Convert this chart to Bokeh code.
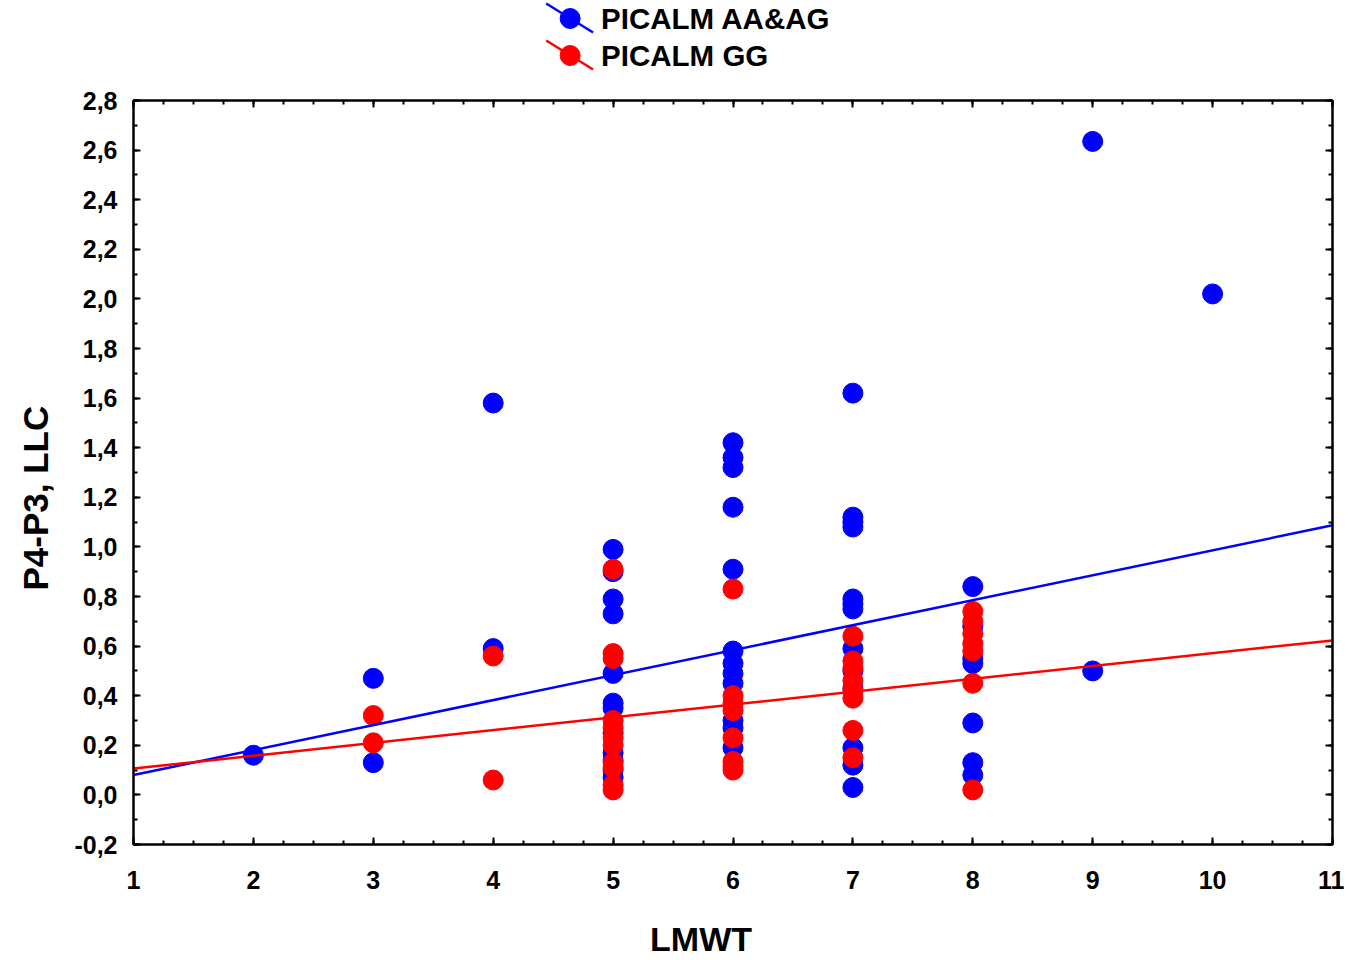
from bokeh.plotting import figure
from bokeh.models import (FixedTicker, CustomJSTickFormatter, LinearAxis, Range1d, Title)
from bokeh.core.properties import value
from bokeh.layouts import column
from bokeh.embed import file_html
from bokeh.resources import INLINE

# ---- data ----
aa_x = [2, 3, 3, 4, 4,
        5, 5, 5, 5, 5, 5, 5, 5, 5, 5, 5, 5,
        6, 6, 6, 6, 6, 6, 6, 6, 6, 6, 6, 6,
        7, 7, 7, 7, 7, 7, 7, 7, 7, 7, 7, 7, 7,
        8, 8, 8, 8, 8, 8, 8,
        9, 9, 10]
aa_y = [0.16, 0.47, 0.13, 1.58, 0.59,
        0.99, 0.90, 0.79, 0.73, 0.49, 0.37, 0.35, 0.25, 0.17, 0.14, 0.10, 0.07,
        1.42, 1.36, 1.32, 1.16, 0.91, 0.58, 0.53, 0.49, 0.45, 0.30, 0.27, 0.19,
        1.62, 1.12, 1.10, 1.08, 0.79, 0.77, 0.75, 0.59, 0.50, 0.43, 0.19, 0.12, 0.03,
        0.84, 0.68, 0.55, 0.53, 0.29, 0.13, 0.08,
        2.635, 0.50, 2.02]

gg_x = [3, 3, 4, 4,
        5, 5, 5, 5, 5, 5, 5, 5, 5, 5, 5,
        6, 6, 6, 6, 6, 6, 6, 6,
        7, 7, 7, 7, 7, 7, 7, 7,
        8, 8, 8, 8, 8, 8, 8]
gg_y = [0.32, 0.21, 0.56, 0.06,
        0.91, 0.57, 0.55, 0.30, 0.27, 0.23, 0.20, 0.13, 0.11, 0.04, 0.02,
        0.83, 0.40, 0.37, 0.34, 0.23, 0.135, 0.115, 0.10,
        0.64, 0.54, 0.51, 0.46, 0.42, 0.39, 0.26, 0.15,
        0.74, 0.70, 0.65, 0.61, 0.58, 0.45, 0.02]

fit_x = [1, 11]
aa_fit = [0.08, 1.087]
gg_fit = [0.106, 0.623]

y_ticks = [round(-0.2 + 0.2 * i, 1) for i in range(16)]
y_minor = [round(-0.2 + 0.1 * i, 2) for i in range(31)]
x_ticks = list(range(1, 12))
x_minor = [1 + 0.25 * i for i in range(41)]

labels = ["PICALM AA&AG", "PICALM GG"]
colors = ["#0000ff", "#ff0000"]
x_title = "LMWT"
y_title = "P4-P3, LLC"
FONT = "Liberation Sans"
W = 1344
FL, FR = 132, 1332          # frame left / right on the page (strips share it)

# ---- legend strip (page-pixel coordinates, y downwards) ----
LEG_H = 88
leg = figure(width=W, height=LEG_H, output_backend="svg", toolbar_location=None,
             x_range=Range1d(FL, FR), y_range=Range1d(LEG_H, 0),
             min_border=0, outline_line_color=None)
leg.axis.visible = False
leg.grid.visible = False
row_y = [18, 55]
for lab, col, ry in zip(labels, colors, row_y):
    leg.line([545, 592], [ry - 15, ry + 14], line_color=col, line_width=2.5)
    leg.scatter([569], [ry], size=20, marker="circle", fill_color=col, line_color=col)
    leg.text([600], [ry], text=[lab], text_font=value(FONT), text_font_style="bold",
             text_font_size="29.5px", text_baseline="middle", text_align="left",
             text_color="black")

# ---- main plot ----
MAIN_H = 816
p = figure(width=W, height=MAIN_H, output_backend="svg", toolbar_location=None,
           x_range=Range1d(1, 11), y_range=Range1d(-0.2, 2.8),
           min_border_left=FL, min_border_right=W - FR, min_border_top=12,
           min_border_bottom=60)
p.grid.visible = False
p.outline_line_color = "black"
p.outline_line_width = 2

p.scatter(aa_x, aa_y, size=20, marker="circle", fill_color=colors[0], line_color=colors[0])
p.scatter(gg_x, gg_y, size=20, marker="circle", fill_color=colors[1], line_color=colors[1])
p.line(fit_x, aa_fit, line_color=colors[0], line_width=2.5)
p.line(fit_x, gg_fit, line_color=colors[1], line_width=2.5)

fmt = CustomJSTickFormatter(code="return tick.toFixed(1).replace('.', ',');")
empty = CustomJSTickFormatter(code="return '';")

xa = p.xaxis[0]
ya = p.yaxis[0]
xa.ticker = FixedTicker(ticks=x_ticks, minor_ticks=x_minor)
ya.ticker = FixedTicker(ticks=y_ticks, minor_ticks=y_minor)
ya.formatter = fmt

TICK = dict(major_tick_in=7, major_tick_out=0, minor_tick_in=4, minor_tick_out=0,
            axis_line_width=2, axis_line_color="black",
            major_tick_line_width=2, minor_tick_line_width=2)

for ax in (xa, ya):
    for k, v in TICK.items():
        setattr(ax, k, v)
    ax.major_label_text_font = FONT
    ax.major_label_text_font_style = "bold"
    ax.major_label_text_font_size = "25px"
    ax.major_label_text_color = "black"

xa.major_label_standoff = 26
ya.major_label_standoff = 16

# mirror ticks on right and top
for loc, ticks, minors in (("right", y_ticks, y_minor), ("above", x_ticks, x_minor)):
    ax = LinearAxis(ticker=FixedTicker(ticks=ticks, minor_ticks=minors),
                    formatter=empty, major_label_standoff=0, **TICK)
    p.add_layout(ax, loc)

p.add_layout(Title(text=y_title, align="left", offset=254, vertical_align="top",
                   standoff=30, text_font=FONT, text_font_style="bold",
                   text_font_size="35px", text_color="black"), "left")

# ---- x-axis title strip ----
BOT_H = 960 - LEG_H - MAIN_H
bot = figure(width=W, height=BOT_H, output_backend="svg", toolbar_location=None,
             x_range=Range1d(FL, FR), y_range=Range1d(BOT_H, 0),
             min_border=0, outline_line_color=None)
bot.axis.visible = False
bot.grid.visible = False
bot.text([700], [938 - LEG_H - MAIN_H], text=[x_title], text_font=value(FONT),
         text_font_style="bold", text_font_size="34px", text_baseline="middle",
         text_align="center", text_color="black")

layout = column(leg, p, bot, spacing=0)
open("out.html", "w").write(file_html(layout, INLINE))
